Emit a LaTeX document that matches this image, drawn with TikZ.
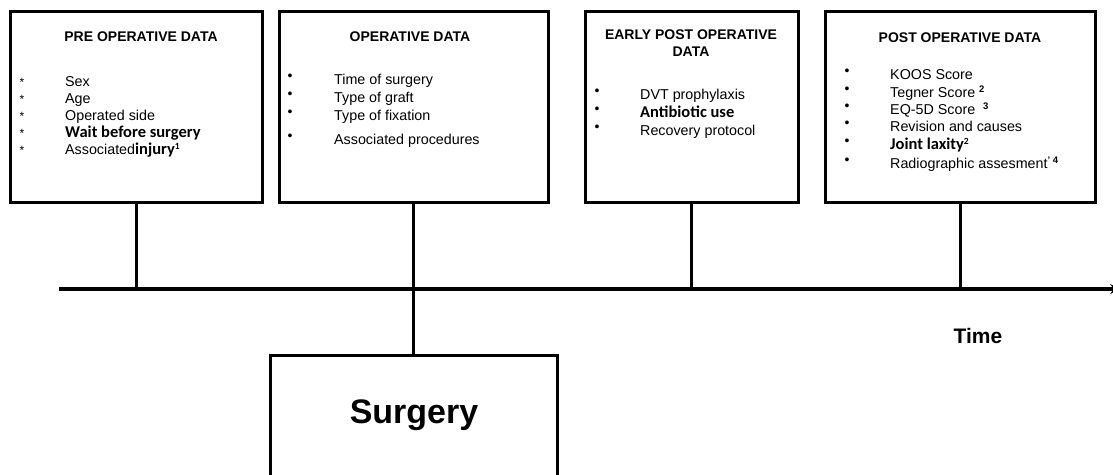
\documentclass[tikz,border=0pt]{standalone}
\usepackage{fontspec}
\setmainfont{Liberation Sans}
\newfontfamily\calib{Carlito}
\newcommand{\supn}[1]{\raisebox{5pt}{\fontsize{9.5}{9.5}\selectfont\bfseries #1}}
\newcommand{\cbold}{\calib\bfseries\fontsize{16.5}{17}\selectfont}
\tikzset{
 databox/.style={draw, line width=3pt, minimum width=#1, minimum height=191pt, inner sep=0pt},
 conn/.style={line width=3pt},
 title/.style={font=\bfseries\fontsize{14}{17}\selectfont, align=center, inner sep=0pt},
 item/.style={anchor=base west, inner sep=0pt},
 star/.style={anchor=base, inner sep=0pt, font=\fontsize{12}{12}\selectfont},
 dot/.style={anchor=base, inner sep=0pt, font=\fontsize{14}{14}\selectfont}
}
\begin{document}
\begin{tikzpicture}[x=1pt, y=1pt, font=\fontsize{14.3}{17}\selectfont, >=stealth]
 \clip (0,0) rectangle (1113,-474);
 \fill[white] (0,0) rectangle (1113,-474);
 \node[databox=252] (pre) at (136,-106.5) {};
 \node[databox=269] (op) at (413.5,-106.5) {};
 \node[databox=213] (epo) at (691.5,-106.5) {};
 \node[databox=270] (post) at (960,-106.5) {};
 \node[draw, line width=3pt, minimum width=287pt, minimum height=160pt] (surg) at (413.5,-435) {};
 \coordinate (tl) at (59,-289);
 \coordinate (tr) at (1120,-289);
 \draw[->, line width=3.2pt] (tl) -- (tr);
 \foreach \b in {pre,op,epo,post}
 \draw[conn] (\b.south) -- (\b.south |- tl);
 \draw[conn] (surg.north) -- (surg.north |- tl);
 \node[title] (pret) at (141,-37) {PRE OPERATIVE DATA};
 \node[title] (opt) at (410,-37) {OPERATIVE DATA};
 \node[title] (epot) at (691,-43) {EARLY POST OPERATIVE\\DATA};
 \node[title] (postt) at (960,-38) {POST OPERATIVE DATA};
 \foreach \y/\t [count=\i] in {86/Sex, 103/Age, 120/Operated side, 137/{\cbold Wait before surgery}, 154/{Associated\cbold injury\supn{1}}} {
  \node[star] (preb\i) at (22,-\y) {*};
  \node[item] (prei\i) at (65,-\y) {\t};
 }
 \foreach \y/\t [count=\i] in {84/Time of surgery, 102/Type of graft, 120/Type of fixation, 144/Associated procedures} {
  \node[dot] (opb\i) at (290,{-\y+4}) {\textbullet};
  \node[item] (opi\i) at (334,-\y) {\t};
 }
 \foreach \y/\t [count=\i] in {99/DVT prophylaxis, 117/{\cbold Antibiotic use}, 135/Recovery protocol} {
  \node[dot] (epob\i) at (597,{-\y+4}) {\textbullet};
  \node[item] (epoi\i) at (640,-\y) {\t};
 }
 \foreach \y/\t [count=\i] in {79/KOOS Score, 97/{Tegner Score \supn{2}}, 114/{EQ-5D Score \ \supn{3}}, 131/Revision and causes, 149/{\cbold Joint laxity\supn{2}}, 168/{Radiographic assesment\supn{'\ 4}}} {
  \node[dot] (postb\i) at (847,{-\y+4}) {\textbullet};
  \node[item] (posti\i) at (890,-\y) {\t};
 }
 \node[anchor=base, font=\bfseries\fontsize{21}{21}\selectfont] (time) at (978,-343) {Time};
 \node[anchor=base, font=\bfseries\fontsize{34}{34}\selectfont] (surgt) at (414,-423) {Surgery};
\end{tikzpicture}
\end{document}
